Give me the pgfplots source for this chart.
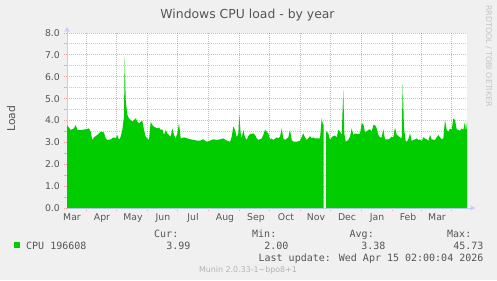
\documentclass[border=0pt]{standalone}
\usepackage{fontspec}
\setmainfont{DejaVu Sans}
\newfontfamily\mono{DejaVu Sans Mono}
\usepackage{pgfplots}
\pgfplotsset{compat=1.18}
\usetikzlibrary{arrows.meta}
\definecolor{bgc}{HTML}{F0F0F0}
\definecolor{areac}{HTML}{00CC00}
\definecolor{txtc}{HTML}{555555}
\definecolor{lavc}{HTML}{C8C8FF}
\definecolor{munc}{HTML}{B4B4B4}
\definecolor{wmc}{HTML}{C4C4C4}
\begin{document}
\begin{tikzpicture}[x=1bp,y=1bp]
\path[use as bounding box] (0,0) rectangle (497,280);
\fill[bgc] (0,0) rectangle (497,280);
\begin{axis}[
  at={(67bp,72bp)}, anchor=origin,
  scale only axis, width=400bp, height=175bp,
  xmin=0, xmax=400, ymin=0, ymax=8,
  axis background/.style={fill=white},
  axis lines=left,
  axis line style={draw=lavc, line width=1bp, -{Stealth[length=5bp,width=5bp]}},
  x axis line style={shorten >=-8bp},
  y axis line style={shorten >=-6bp},
  tick align=outside,
  major tick length=3bp, minor tick length=3bp,
  major tick style={draw=red, draw opacity=0.35, line width=1bp, dash pattern=on 1bp off 1bp},
  minor tick style={draw=black, draw opacity=0.2, line width=1bp},
  xtick={19,49,80,110,141,172,202,233,263,294,325,354,384},
  xticklabels={,,,,,,,,,,,,},
  extra x ticks={5,35,66,96,126,158,189,219,249,280,310,341,370},
  extra x tick labels={Mar,Apr,May,Jun,Jul,Aug,Sep,Oct,Nov,Dec,Jan,Feb,Mar},
  extra x tick style={grid=none, major tick length=0pt},
  ytick={0,1,2,3,4,5,6,7,8},
  minor ytick={0.5,1.5,2.5,3.5,4.5,5.5,6.5,7.5},
  grid=both,
  major grid style={draw=red, draw opacity=0.35, line width=1bp, dash pattern=on 1bp off 1bp},
  minor grid style={draw=black, draw opacity=0.2, line width=1bp, dash pattern=on 1bp off 1bp},
  tick label style={font=\fontsize{9.3bp}{11bp}\selectfont, text=txtc},
  yticklabel style={anchor=east, inner sep=0pt, xshift=-4bp},
  xticklabel style={anchor=base, inner sep=0pt, yshift=-12bp},
  /pgf/number format/.cd, fixed, fixed zerofill, precision=1, assume math mode=true,
]
\addplot[fill=areac, draw=none] table {
x y
0 3.79
3.7 3.57
7 3.64
8.7 3.79
10.3 3.57
13.7 3.57
15.3 3.57
18.7 3.60
22 3.64
23.7 3.49
25.3 3.11
27 3.23
30.3 3.34
33.7 3.49
37 3.45
38.7 3.18
40.3 3.11
43.7 3.14
47 3.23
48.7 3.18
50.3 3.34
52 3.11
53.7 3.26
55.3 3.57
57 4.18
57.7 6.92
58.7 4.94
60.3 4.26
62 4.10
63.7 4.02
65.3 3.95
67 4.02
68.7 4.10
70.3 3.95
72 3.87
73.7 3.95
75.3 3.99
77 3.57
78.7 3.26
80.3 3.18
82 3.11
83.7 3.95
85.3 3.79
87 3.72
90.3 3.64
92 3.68
93.7 3.57
95.3 3.60
97 3.34
98.7 3.57
100.3 3.41
103.7 3.26
105.3 3.64
107 3.34
108.7 3.18
110.3 3.41
112 3.87
113.7 3.18
117 3.23
120.3 3.18
123.7 3.14
127 3.11
130.3 3.08
133.3 3.08
136.3 3.14
138 3.08
139.7 3.03
143 3.08
146.3 3.14
149.7 3.11
153 3.14
156.3 3.18
159.7 3.08
163 3.03
164.7 3.26
166.3 3.72
168 3.57
169.7 3.23
171.3 3.41
172.3 4.26
173.7 3.41
174.7 3.18
176.3 3.57
178 3.23
179.7 3.11
181.3 3.29
183 3.38
186.3 3.41
188 3.34
189.7 3.18
191.3 3.11
194.7 3.18
196.3 3.34
198 3.57
199.7 3.49
201.3 3.41
203 3.14
204.7 3.18
206.3 3.11
209.7 3.23
211.3 3.18
213 3.26
214.7 3.64
216.3 3.18
218 3.11
221.3 3.23
223 3.57
224.7 3.11
226.3 3.03
229.7 3.03
233 3.08
236.3 3.41
238 3.23
239.7 3.11
241.3 3.18
243 3.29
244.7 3.18
246.3 3.23
248 3.18
251.3 3.18
253 3.18
254.7 4.10
255.7 3.87
256.5 3.80
} \closedcycle;
\addplot[fill=areac, draw=none] table {
x y
259 3.49
259.7 3.49
261.3 3.41
263 3.11
264.7 3.23
266.3 3.29
268 3.31
269.7 3.23
271.3 3.57
273 3.49
274.7 3.34
276.3 5.39
277.3 3.41
278.7 3.03
281.3 3.11
283 3.26
284.7 3.64
286.3 3.34
288 3.41
291.3 3.38
293 3.41
294.7 3.87
296.3 3.84
298 3.45
301.3 3.57
303 3.60
304.7 3.49
306.3 3.79
308 3.79
309.7 3.64
311.3 3.34
313 3.23
314.7 3.23
316.3 3.60
318 3.14
321.3 3.14
323 3.18
324.7 3.26
326.3 3.23
328 3.68
329.7 3.34
331.3 3.29
333 3.23
334.7 3.18
335.7 5.70
337 3.64
338.7 3.06
339.7 3.03
341.3 3.14
343 3.41
344.7 3.06
346.3 3.11
348 3.14
349.7 3.18
351.3 3.11
353 3.14
354.7 3.06
356.3 3.23
358 3.18
359.7 3.14
361.3 3.06
363 3.34
364.7 3.14
368 3.11
369.7 3.23
371.3 3.34
373 3.23
374.7 3.14
376.3 3.18
378 4.02
379.7 3.57
381.3 3.49
383 3.64
384.7 3.57
386.3 4.10
388 4.02
389.7 3.60
391.3 3.57
393 3.53
394.7 3.64
396.3 3.57
398 3.95
399 3.49
400 3.95
} \closedcycle;
\end{axis}
% title
\node[anchor=base, inner sep=0pt, text=txtc, font=\fontsize{12.4bp}{14bp}\selectfont] at (247.5,261.5) {Windows CPU load - by year};
% y label
\node[anchor=base, rotate=90, inner sep=0pt, text=txtc, font=\fontsize{10.8bp}{12bp}\selectfont] at (15,161.3) {Load};
% watermark
\node[anchor=base, rotate=-90, inner sep=0pt, text=wmc, font=\fontsize{7.9bp}{9bp}\selectfont] at (486,224) {RRDTOOL / TOBI OETIKER};
% legend
\fill[areac] (14,31.7) rectangle (20,37.7);
\begin{scope}[every node/.style={inner sep=0pt, text=txtc, font=\mono\fontsize{10bp}{12bp}\selectfont}]
\node[anchor=base west] at (26,31) {CPU 196608};
\node[anchor=base west] at (154,42.7) {Cur:};
\node[anchor=base west] at (252,42.7) {Min:};
\node[anchor=base west] at (349.5,42.7) {Avg:};
\node[anchor=base west] at (447,42.7) {Max:};
\node[anchor=base east] at (190.6,31) {3.99};
\node[anchor=base east] at (288.6,31) {2.00};
\node[anchor=base east] at (385.6,31) {3.38};
\node[anchor=base east] at (483.6,31) {45.73};
\node[anchor=base east] at (483.6,19) {Last update: Wed Apr 15 02:00:04 2026};
\end{scope}
\node[anchor=base, inner sep=0pt, text=munc, font=\fontsize{7.9bp}{9bp}\selectfont] at (248,7.7) {Munin 2.0.33-1\textasciitilde bpo8+1};
\end{tikzpicture}
\end{document}
